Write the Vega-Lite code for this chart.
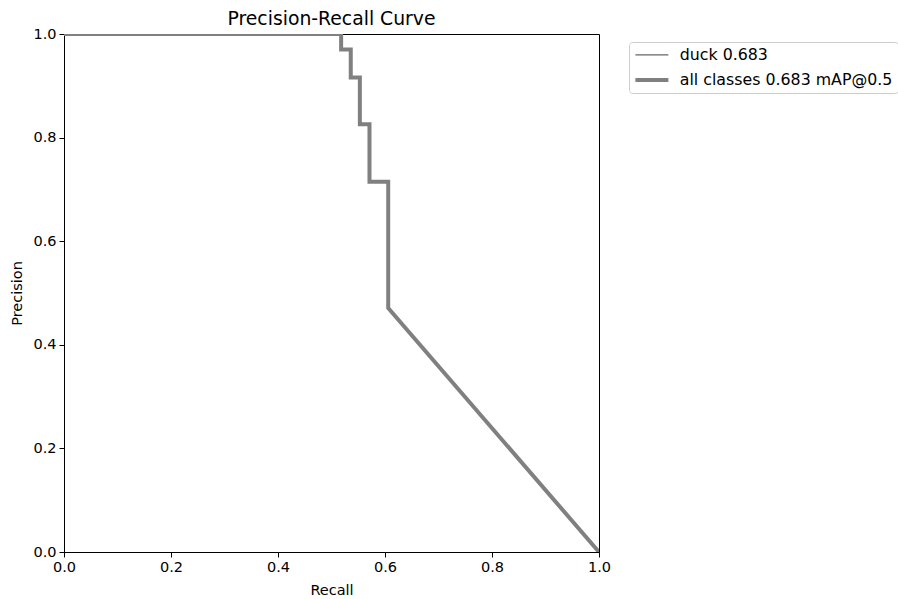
{
  "$schema": "https://vega.github.io/schema/vega-lite/v6.json",
  "autosize": {"type": "none"},
  "padding": {"left": 64, "top": 34, "right": 299, "bottom": 47},
  "width": 535,
  "height": 518,
  "background": "white",
  "title": {"text": "Precision-Recall Curve", "font": "DejaVu Sans", "fontSize": 18.8, "fontWeight": "normal", "color": "black", "offset": -3},
  "data": {"values": [
    {"series": "duck 0.683", "i": 0, "recall": 0.0, "precision": 1.0},
    {"series": "duck 0.683", "i": 1, "recall": 0.518, "precision": 1.0},
    {"series": "duck 0.683", "i": 2, "recall": 0.518, "precision": 0.970},
    {"series": "duck 0.683", "i": 3, "recall": 0.536, "precision": 0.970},
    {"series": "duck 0.683", "i": 4, "recall": 0.536, "precision": 0.916},
    {"series": "duck 0.683", "i": 5, "recall": 0.553, "precision": 0.916},
    {"series": "duck 0.683", "i": 6, "recall": 0.553, "precision": 0.826},
    {"series": "duck 0.683", "i": 7, "recall": 0.571, "precision": 0.826},
    {"series": "duck 0.683", "i": 8, "recall": 0.571, "precision": 0.715},
    {"series": "duck 0.683", "i": 9, "recall": 0.606, "precision": 0.715},
    {"series": "duck 0.683", "i": 10, "recall": 0.606, "precision": 0.471},
    {"series": "duck 0.683", "i": 11, "recall": 1.0, "precision": 0.0},
    {"series": "all classes 0.683 mAP@0.5", "i": 0, "recall": 0.0, "precision": 1.0},
    {"series": "all classes 0.683 mAP@0.5", "i": 1, "recall": 0.518, "precision": 1.0},
    {"series": "all classes 0.683 mAP@0.5", "i": 2, "recall": 0.518, "precision": 0.970},
    {"series": "all classes 0.683 mAP@0.5", "i": 3, "recall": 0.536, "precision": 0.970},
    {"series": "all classes 0.683 mAP@0.5", "i": 4, "recall": 0.536, "precision": 0.916},
    {"series": "all classes 0.683 mAP@0.5", "i": 5, "recall": 0.553, "precision": 0.916},
    {"series": "all classes 0.683 mAP@0.5", "i": 6, "recall": 0.553, "precision": 0.826},
    {"series": "all classes 0.683 mAP@0.5", "i": 7, "recall": 0.571, "precision": 0.826},
    {"series": "all classes 0.683 mAP@0.5", "i": 8, "recall": 0.571, "precision": 0.715},
    {"series": "all classes 0.683 mAP@0.5", "i": 9, "recall": 0.606, "precision": 0.715},
    {"series": "all classes 0.683 mAP@0.5", "i": 10, "recall": 0.606, "precision": 0.471},
    {"series": "all classes 0.683 mAP@0.5", "i": 11, "recall": 1.0, "precision": 0.0}
  ]},
  "mark": {"type": "line", "strokeJoin": "miter", "clip": true},
  "encoding": {
    "x": {"field": "recall", "type": "quantitative", "scale": {"domain": [0, 1], "nice": false, "zero": false},
          "axis": {"title": "Recall", "values": [0, 0.2, 0.4, 0.6, 0.8, 1.0], "format": ".1f"}},
    "y": {"field": "precision", "type": "quantitative", "scale": {"domain": [0, 1], "nice": false, "zero": false},
          "axis": {"title": "Precision", "values": [0, 0.2, 0.4, 0.6, 0.8, 1.0], "format": ".1f"}},
    "order": {"field": "i", "type": "quantitative"},
    "color": {"field": "series", "type": "nominal",
              "scale": {"domain": ["duck 0.683", "all classes 0.683 mAP@0.5"], "range": ["#666666", "#808080"]},
              "legend": {"title": null}},
    "strokeWidth": {"field": "series", "type": "nominal",
              "scale": {"domain": ["duck 0.683", "all classes 0.683 mAP@0.5"], "range": [1.2, 4]},
              "legend": {"title": null}}
  },
  "config": {
    "font": "DejaVu Sans",
    "view": {"stroke": "black", "strokeWidth": 1},
    "axis": {
      "grid": false, "domainColor": "black", "tickColor": "black", "tickSize": 5,
      "labelFontSize": 14.5, "labelColor": "black", "labelFont": "DejaVu Sans", "labelPadding": 3,
      "titleFontSize": 14.5, "titleFontWeight": "normal", "titleColor": "black", "titleFont": "DejaVu Sans"
    },
    "axisX": {"titlePadding": 10, "labelFlush": false},
    "axisY": {"titlePadding": 8, "labelFlush": false},
    "legend": {
      "orient": "none", "legendX": 565, "legendY": 8,
      "symbolType": "M-3,0H3", "symbolSize": 121, "symbolOffset": 10,
      "labelFontSize": 15.8, "labelColor": "black", "labelFont": "DejaVu Sans", "labelLimit": 400,
      "strokeColor": "#cccccc", "fillColor": "white", "cornerRadius": 3, "padding": 5,
      "rowPadding": 8, "labelOffset": 20
    }
  }
}
